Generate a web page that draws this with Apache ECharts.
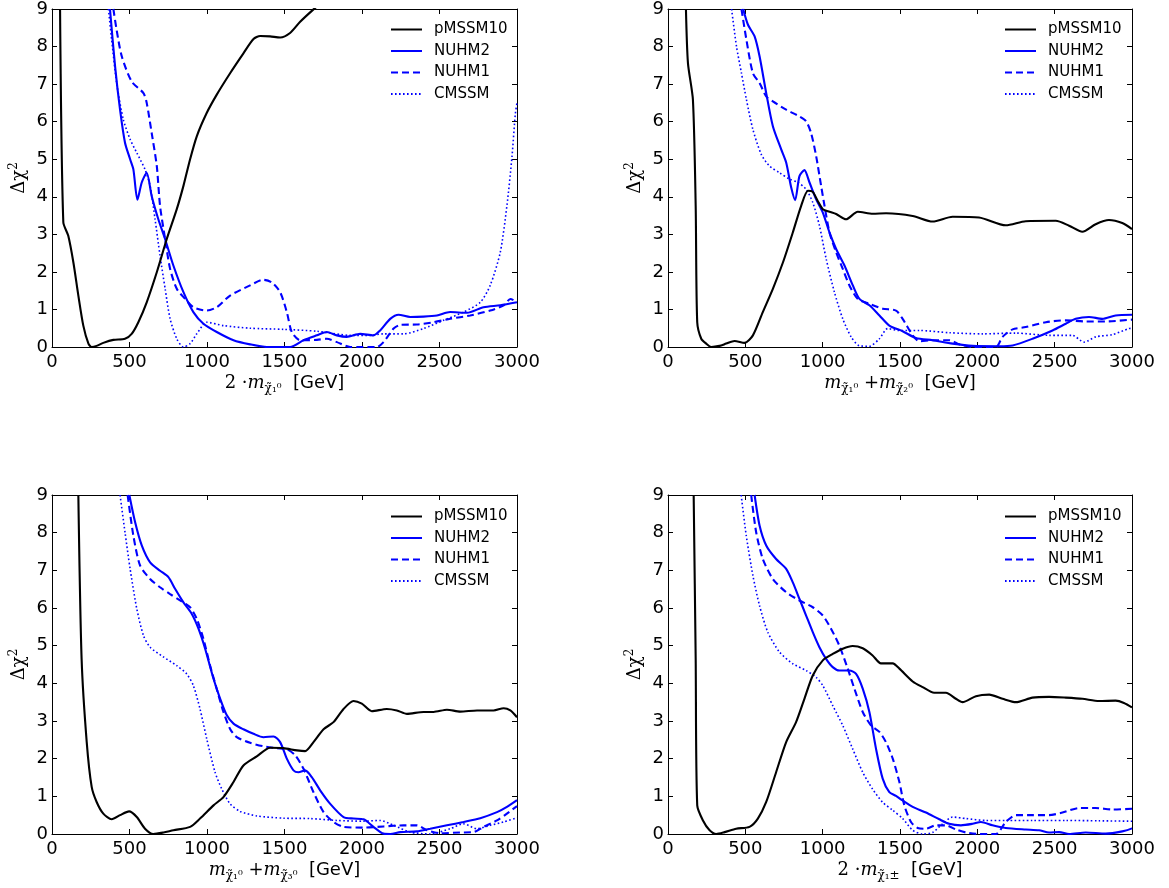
<!DOCTYPE html>
<html><head><meta charset="utf-8">
<script src="https://cdn.jsdelivr.net/npm/echarts@6/dist/echarts.min.js"></script>
<style>html,body{margin:0;padding:0;background:#fff}#c{width:1169px;height:888px}</style>
</head><body><div id="c"></div>
<script>
// ---------- tick values ----------
const xMin = 0, xMax = 3000, xStep = 500;
const yMin = 0, yMax = 9, yStep = 1;
const seriesNames = ['pMSSM10', 'NUHM2', 'NUHM1', 'CMSSM'];

// ---------- Panel 1 : 2·m(chi1) ----------
const p1_pMSSM10 = [[52,9],[73,3.32],[105,2.96],[138,2.25],[170,1.37],[202,0.57],[235,0.09],[256,0],[288,0.03],[331,0.11],[396,0.19],[471,0.22],[514,0.35],[557,0.66],[611,1.19],[676,1.99],[740,2.87],[805,3.67],[848,4.29],[891,5.0],[934,5.61],[998,6.23],[1063,6.72],[1149,7.29],[1235,7.82],[1300,8.2],[1343,8.28],[1407,8.27],[1472,8.24],[1536,8.36],[1601,8.66],[1687,8.99],[1720,9.1]];
const p1_NUHM2 = [[374,9],[407,7.47],[439,6.32],[471,5.44],[504,5.0],[525,4.73],[551,3.92],[579,4.38],[611,4.64],[643,4.02],[686,3.4],[730,2.87],[783,2.17],[848,1.46],[912,0.93],[977,0.62],[1063,0.4],[1171,0.18],[1278,0.07],[1386,0],[1536,0],[1623,0.18],[1709,0.31],[1773,0.4],[1838,0.31],[1902,0.27],[1988,0.35],[2074,0.31],[2117,0.44],[2182,0.75],[2236,0.86],[2311,0.8],[2397,0.81],[2483,0.84],[2569,0.93],[2677,0.91],[2784,1.06],[2892,1.11],[3000,1.19]];
const p1_NUHM1 = [[396,9],[417,8.44],[450,7.74],[514,7.07],[590,6.76],[611,6.5],[643,5.7],[676,4.82],[697,3.76],[730,2.87],[762,2.08],[805,1.55],[859,1.28],[912,1.06],[998,0.97],[1063,1.06],[1149,1.37],[1278,1.64],[1364,1.79],[1418,1.72],[1472,1.46],[1515,0.93],[1547,0.4],[1601,0.18],[1709,0.19],[1773,0.22],[1838,0.13],[1924,0],[2096,0],[2139,0.13],[2204,0.49],[2247,0.59],[2354,0.6],[2462,0.66],[2569,0.75],[2698,0.84],[2827,0.97],[2914,1.11],[2957,1.28],[3000,1.19]];
const p1_CMSSM = [[364,9],[385,8.18],[417,7.03],[460,6.06],[504,5.53],[547,5.17],[600,4.73],[633,4.29],[665,3.4],[697,2.43],[730,1.55],[762,0.75],[805,0.22],[848,0],[891,0.09],[934,0.35],[998,0.66],[1106,0.57],[1278,0.5],[1493,0.47],[1709,0.42],[1924,0.31],[2053,0.31],[2139,0.35],[2268,0.35],[2397,0.49],[2526,0.71],[2655,0.93],[2763,1.19],[2827,1.64],[2892,2.52],[2935,3.76],[2968,5.08],[2989,6.2],[3000,6.5]];

// ---------- Panel 2 : m(chi1)+m(chi2) ----------
const p2_pMSSM10 = [[116,9],[129,7.56],[161,6.59],[179,3.76],[189,0.66],[215,0.22],[247,0.09],[280,0],[333,0.03],[376,0.09],[430,0.16],[495,0.11],[549,0.31],[613,0.93],[678,1.55],[743,2.25],[807,3.05],[861,3.76],[905,4.16],[936,4.13],[968,3.89],[1001,3.67],[1044,3.6],[1087,3.54],[1151,3.4],[1227,3.6],[1324,3.55],[1410,3.56],[1582,3.49],[1711,3.34],[1840,3.47],[2011,3.45],[2184,3.24],[2313,3.35],[2507,3.36],[2593,3.23],[2679,3.07],[2765,3.27],[2851,3.38],[2937,3.3],[3000,3.14]];
const p2_NUHM2 = [[486,9],[517,8.58],[560,8.27],[592,7.74],[635,6.76],[678,5.88],[732,5.26],[764,4.91],[797,4.24],[822,3.91],[850,4.55],[882,4.71],[915,4.38],[958,3.93],[1001,3.58],[1044,3.05],[1087,2.61],[1141,2.17],[1195,1.64],[1238,1.28],[1302,1.11],[1367,0.84],[1431,0.57],[1517,0.42],[1603,0.24],[1711,0.18],[1840,0.09],[1970,0.03],[2141,0.02],[2228,0.04],[2357,0.22],[2486,0.44],[2572,0.62],[2636,0.75],[2722,0.8],[2808,0.75],[2894,0.84],[3000,0.86]];
const p2_NUHM1 = [[475,9],[507,8.18],[549,7.29],[592,7.03],[635,6.67],[678,6.54],[764,6.32],[850,6.14],[893,6.01],[925,5.7],[958,5.08],[990,4.29],[1012,3.76],[1044,3.05],[1087,2.52],[1130,2.08],[1173,1.64],[1227,1.28],[1302,1.15],[1388,1.02],[1474,0.97],[1517,0.75],[1582,0.31],[1625,0.15],[1711,0.18],[1820,0.18],[1885,0.07],[1970,0],[2120,0],[2163,0.27],[2228,0.47],[2313,0.53],[2443,0.66],[2572,0.71],[2701,0.68],[2830,0.68],[3000,0.73]];
const p2_CMSSM = [[411,9],[443,8.0],[475,7.29],[507,6.59],[549,5.79],[603,5.13],[656,4.82],[721,4.64],[786,4.47],[840,4.38],[893,4.2],[936,3.85],[979,3.23],[1023,2.34],[1076,1.46],[1130,0.75],[1184,0.27],[1238,0.03],[1302,0.02],[1367,0.22],[1420,0.49],[1496,0.44],[1625,0.44],[1820,0.38],[2033,0.35],[2249,0.37],[2465,0.31],[2615,0.31],[2690,0.13],[2765,0.27],[2873,0.33],[2980,0.49],[3000,0.5]];

// ---------- Panel 3 : m(chi1)+m(chi3) ----------
const p3_pMSSM10 = [[170,9],[191,4.65],[224,2.44],[256,1.25],[288,0.85],[331,0.54],[385,0.39],[439,0.5],[497,0.6],[547,0.45],[600,0.14],[654,0],[719,0.04],[783,0.1],[891,0.19],[955,0.41],[1042,0.76],[1106,0.98],[1171,1.38],[1235,1.82],[1321,2.06],[1407,2.29],[1493,2.28],[1580,2.22],[1633,2.2],[1687,2.44],[1752,2.78],[1816,2.97],[1881,3.32],[1945,3.53],[1999,3.46],[2063,3.26],[2160,3.32],[2225,3.28],[2290,3.19],[2397,3.24],[2462,3.24],[2548,3.3],[2634,3.25],[2742,3.28],[2849,3.28],[2914,3.34],[2957,3.28],[3000,3.1]];
const p3_NUHM2 = [[499,9],[536,8.28],[579,7.66],[633,7.21],[697,6.99],[751,6.82],[794,6.51],[848,6.15],[902,5.84],[945,5.45],[988,4.92],[1042,4.12],[1085,3.59],[1128,3.15],[1171,2.93],[1235,2.78],[1300,2.66],[1364,2.57],[1429,2.59],[1472,2.44],[1515,2.0],[1558,1.69],[1590,1.64],[1633,1.69],[1676,1.51],[1730,1.16],[1795,0.8],[1881,0.45],[1945,0.41],[2010,0.39],[2074,0.19],[2139,0.01],[2182,0],[2247,0.05],[2354,0.07],[2440,0.14],[2548,0.23],[2655,0.32],[2763,0.42],[2871,0.58],[2935,0.72],[3000,0.9]];
const p3_NUHM1 = [[488,9],[525,7.92],[568,7.13],[633,6.77],[697,6.55],[762,6.37],[826,6.2],[891,6.02],[934,5.71],[977,5.18],[1020,4.47],[1063,3.85],[1106,3.24],[1149,2.79],[1192,2.57],[1278,2.42],[1364,2.33],[1450,2.28],[1515,2.25],[1569,2.09],[1623,1.73],[1687,1.11],[1752,0.58],[1816,0.32],[1881,0.19],[2010,0.17],[2139,0.2],[2268,0.23],[2354,0.23],[2419,0.1],[2505,0.02],[2634,0.04],[2720,0.05],[2785,0.19],[2871,0.36],[2935,0.54],[3000,0.74]];
const p3_CMSSM = [[439,9],[471,8.01],[504,7.04],[547,5.98],[590,5.27],[633,4.96],[719,4.7],[805,4.47],[869,4.25],[912,3.94],[955,3.32],[998,2.53],[1052,1.64],[1095,1.2],[1149,0.8],[1214,0.6],[1321,0.48],[1493,0.42],[1666,0.41],[1838,0.36],[2010,0.34],[2117,0.36],[2204,0.23],[2311,0.05],[2440,0],[2569,0.14],[2655,0.27],[2742,0.14],[2828,0.23],[2914,0.32],[3000,0.43]];

// ---------- Panel 4 : 2·m(chargino1) ----------
const p4_pMSSM10 = [[166,9],[179,4.65],[189,0.76],[226,0.36],[269,0.1],[312,0],[366,0.05],[441,0.14],[527,0.19],[581,0.41],[635,0.85],[699,1.64],[764,2.44],[828,2.97],[882,3.59],[936,4.21],[1001,4.61],[1065,4.78],[1130,4.92],[1194,4.99],[1259,4.93],[1323,4.74],[1377,4.53],[1453,4.53],[1496,4.39],[1582,4.05],[1646,3.9],[1721,3.75],[1797,3.75],[1861,3.59],[1904,3.5],[1991,3.66],[2077,3.7],[2163,3.59],[2249,3.5],[2356,3.62],[2464,3.64],[2572,3.62],[2679,3.59],[2787,3.53],[2894,3.54],[2948,3.48],[3000,3.36]];
const p4_NUHM2 = [[560,9],[592,8.19],[635,7.66],[699,7.3],[764,7.04],[807,6.68],[850,6.24],[893,5.8],[936,5.36],[979,4.96],[1022,4.65],[1065,4.43],[1108,4.34],[1173,4.34],[1216,4.25],[1259,3.86],[1302,3.24],[1345,2.26],[1388,1.47],[1431,1.11],[1474,1.01],[1517,0.89],[1582,0.72],[1668,0.57],[1754,0.39],[1818,0.27],[1894,0.23],[1969,0.27],[2023,0.32],[2098,0.23],[2184,0.16],[2313,0.12],[2399,0.1],[2464,0.04],[2529,0.05],[2593,0],[2701,0.04],[2830,0.01],[2937,0.07],[3000,0.15]];
const p4_NUHM1 = [[538,9],[570,8.01],[613,7.3],[678,6.77],[764,6.42],[850,6.2],[936,6.02],[1001,5.8],[1054,5.45],[1108,5.0],[1162,4.39],[1205,3.86],[1259,3.24],[1313,2.88],[1367,2.71],[1409,2.44],[1453,2.0],[1496,1.38],[1528,0.76],[1571,0.32],[1614,0.16],[1668,0.14],[1732,0.23],[1797,0.23],[1861,0.12],[1926,0.04],[2012,0],[2120,0],[2184,0.32],[2249,0.5],[2356,0.5],[2464,0.5],[2550,0.57],[2658,0.69],[2765,0.69],[2873,0.65],[3000,0.67]];
const p4_CMSSM = [[473,9],[506,7.92],[549,6.86],[592,6.06],[646,5.35],[721,4.83],[807,4.52],[893,4.34],[958,4.16],[1001,3.94],[1065,3.41],[1130,2.88],[1194,2.26],[1259,1.64],[1323,1.19],[1388,0.84],[1453,0.63],[1517,0.41],[1582,0.1],[1646,0],[1711,0.04],[1775,0.27],[1840,0.45],[1926,0.41],[2055,0.36],[2184,0.36],[2356,0.36],[2572,0.36],[2787,0.35],[3000,0.34]];

const panelData = [
  [p1_pMSSM10, p1_NUHM2, p1_NUHM1, p1_CMSSM],
  [p2_pMSSM10, p2_NUHM2, p2_NUHM1, p2_CMSSM],
  [p3_pMSSM10, p3_NUHM2, p3_NUHM1, p3_CMSSM],
  [p4_pMSSM10, p4_NUHM2, p4_NUHM1, p4_CMSSM]
];
const chi = '\u03c7\u0303';
const xNames = [
  '{n|2 \u00b7}{it|m}{sub|' + chi + '\u2081\u2070}  [GeV]',
  '{it|m}{sub|' + chi + '\u2081\u2070} {n|+}{it|m}{sub|' + chi + '\u2082\u2070}  [GeV]',
  '{it|m}{sub|' + chi + '\u2081\u2070} {n|+}{it|m}{sub|' + chi + '\u2083\u2070}  [GeV]',
  '{n|2 \u00b7}{it|m}{sub|' + chi + '\u2081\u00b1}  [GeV]'
];

const grids = [
  {left: 52, top: 7, width: 465, height: 340},
  {left: 668, top: 7, width: 464, height: 340},
  {left: 52, top: 495, width: 465, height: 339},
  {left: 668, top: 495, width: 464, height: 339}
];
const legendPos = [[390, 22], [1004, 22], [390, 509], [1004, 509]];

const FONT = 'DejaVu Sans';
const styles = [
  {color: '#000000', width: 2.1, type: 'solid'},
  {color: '#0000ff', width: 2.1, type: 'solid'},
  {color: '#0000ff', width: 2.1, type: [7, 4]},
  {color: '#0000ff', width: 1.6, type: [1.6, 2.4]}
];

const xAxis = [], yAxis = [], series = [], legend = [];
const axLine = {show: true, onZero: false, lineStyle: {color: '#000', width: 1}};
const axTick = {show: true, inside: true, length: 5, lineStyle: {color: '#000', width: 1}};
const plain = v => String(v);
for (let i = 0; i < 4; i++) {
  xAxis.push({
    type: 'value', gridIndex: i, min: xMin, max: xMax, interval: xStep, position: 'bottom',
    axisLine: axLine, axisTick: axTick, splitLine: {show: false},
    axisLabel: {fontSize: 18, fontFamily: FONT, color: '#000', margin: 6, formatter: plain},
    name: xNames[i], nameLocation: 'middle', nameGap: 24,
    nameTextStyle: {fontSize: 18, fontFamily: FONT, color: '#000',
      rich: {
        n: {fontSize: 18, fontFamily: 'DejaVu Serif', color: '#000'},
        it: {fontSize: 18, fontFamily: 'DejaVu Serif', fontStyle: 'italic', color: '#000'},
        sub: {fontSize: 12, fontFamily: 'DejaVu Serif', color: '#000', padding: [12, 0, 0, 0]}
      }}
  });
  xAxis.push({
    type: 'value', gridIndex: i, min: xMin, max: xMax, interval: xStep, position: 'top',
    axisLine: axLine, axisTick: axTick, splitLine: {show: false}, axisLabel: {show: false}
  });
  yAxis.push({
    type: 'value', gridIndex: i, min: yMin, max: yMax, interval: yStep, position: 'left',
    axisLine: axLine, axisTick: axTick, splitLine: {show: false},
    axisLabel: {fontSize: 18, fontFamily: FONT, color: '#000', margin: 4, formatter: plain},
    name: '\u0394\u03c7{sup|2}', nameLocation: 'middle', nameGap: 22, nameRotate: 90,
    nameTextStyle: {fontSize: 18, fontFamily: 'DejaVu Serif', color: '#000',
      rich: {sup: {fontSize: 12, fontFamily: 'DejaVu Serif', color: '#000', padding: [0, 0, 10, 0]}}}
  });
  yAxis.push({
    type: 'value', gridIndex: i, min: yMin, max: yMax, interval: yStep, position: 'right',
    axisLine: axLine, axisTick: axTick, splitLine: {show: false}, axisLabel: {show: false}
  });
  for (let s = 0; s < 4; s++) {
    series.push({
      name: seriesNames[s], type: 'line', xAxisIndex: 2 * i, yAxisIndex: 2 * i,
      data: panelData[i][s], symbol: 'none', showSymbol: false, smooth: 0.25,
      clip: true, z: 4 - s,
      lineStyle: {color: styles[s].color, width: styles[s].width, type: styles[s].type},
      itemStyle: {color: styles[s].color}
    });
  }
  legend.push({
    show: true, orient: 'vertical', left: legendPos[i][0], top: legendPos[i][1],
    data: seriesNames, itemWidth: 31, itemHeight: 14, itemGap: 6.5, padding: 0,
    selectedMode: false,
    itemStyle: {opacity: 0, borderWidth: 0},
    textStyle: {fontSize: 15, fontFamily: FONT, color: '#000', padding: [0, 0, 0, 7]}
  });
}

const chart = echarts.init(document.getElementById('c'), null, {renderer: 'canvas'});
chart.setOption({
  animation: false, backgroundColor: '#fff',
  grid: grids, xAxis: xAxis, yAxis: yAxis, series: series, legend: legend
});
</script></body></html>
